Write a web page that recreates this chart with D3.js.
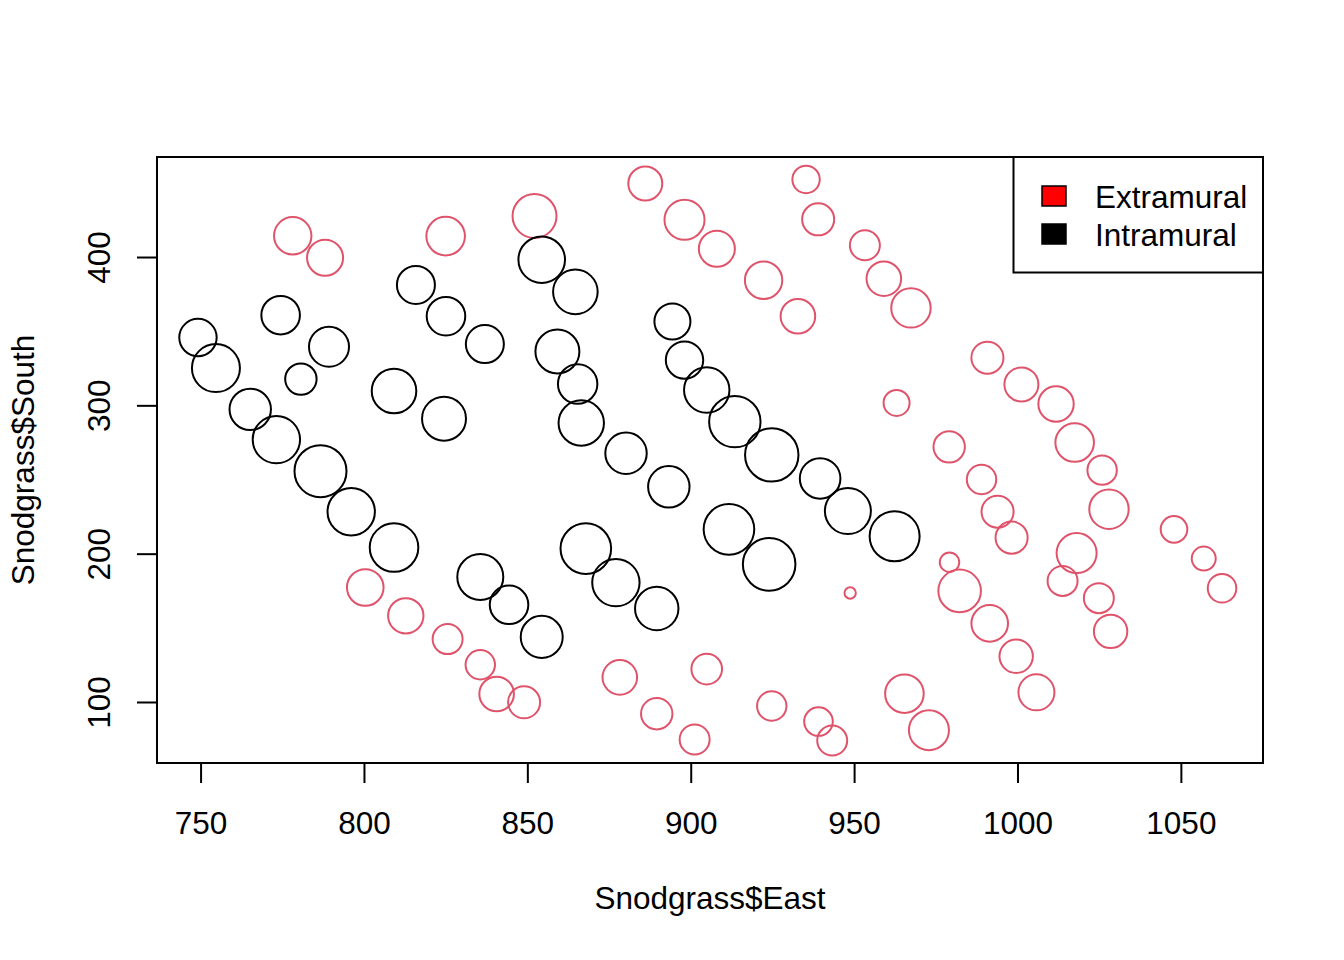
<!DOCTYPE html>
<html>
<head>
<meta charset="utf-8">
<script src="https://cdn.jsdelivr.net/npm/d3@7"></script>
<style>
  body { margin: 0; background: #fff; }
  text { font-family: "Liberation Sans", Arial, Helvetica, sans-serif; }
</style>
</head>
<body>
<div id="chart"></div>
<script>
    // Snodgrass house locations. Area drives the circle size.
    var extEast  = [778.2, 788.1, 825.0, 886.1, 935.3, 852.2, 898.1, 939.0, 908.0, 953.3,
                    922.3, 959.1, 932.8, 967.4, 990.8, 1001.2, 1011.8, 1017.5, 963.0, 979.1,
                    989.0, 1025.9, 993.9, 998.2, 1028.0, 1047.9, 1057.0, 1062.6, 979.2, 982.3,
                    991.5, 999.6, 1005.8, 1018.1, 1013.8, 1024.9, 1028.5, 965.4, 972.9, 948.8,
                    878.3, 904.9, 889.6, 901.2, 924.8, 939.1, 943.3, 800.4, 812.8, 825.6,
                    835.6, 840.6, 849.0];
    var extSouth = [414.3, 399.5, 414.1, 449.6, 452.3, 427.6, 425.1, 425.4, 405.6, 407.9,
                    384.3, 385.4, 360.1, 365.7, 332.1, 314.1, 300.9, 274.9, 301.6, 272.0,
                    250.0, 256.3, 228.3, 210.8, 230.0, 216.4, 196.7, 176.7, 194.2, 174.9,
                    153.0, 130.8, 106.5, 200.4, 181.6, 170.0, 147.6, 105.6, 81.0, 173.5,
                    116.6, 122.2, 92.1, 74.7, 97.3, 86.8, 74.0, 177.2, 158.1, 142.4,
                    125.1, 105.4, 99.8];
    var extArea  = [207, 192, 220, 171, 111, 286, 237, 152, 192, 133,
                    207, 177, 177, 230, 152, 171, 185, 220, 100, 146,
                    128, 128, 152, 152, 230, 105, 85, 121, 56, 268,
                    198, 165, 192, 237, 133, 133, 165, 220, 237, 19,
                    177, 139, 146, 133, 128, 121, 133, 198, 185, 133,
                    128, 177, 152];

    var intEast  = [749.2, 754.7, 774.5, 789.3, 780.7, 815.9, 825.1, 837.0, 809.2, 824.5,
                    765.2, 773.2, 786.7, 796.1, 809.2, 835.6, 844.4, 854.4, 854.4, 864.7,
                    859.2, 865.4, 866.5, 880.2, 894.4, 898.1, 904.9, 913.5, 924.8, 939.6,
                    948.1, 962.4, 867.9, 877.1, 889.6, 893.3, 911.7, 924.0];
    var intSouth = [345.7, 325.1, 360.8, 339.5, 317.7, 381.2, 360.1, 341.3, 309.7, 291.0,
                    297.3, 276.9, 255.6, 228.3, 204.1, 184.3, 165.5, 143.9, 398.2, 376.5,
                    336.3, 314.4, 288.1, 267.7, 356.5, 330.5, 310.3, 289.0, 266.6, 250.7,
                    228.7, 211.7, 203.4, 180.5, 163.0, 245.1, 216.4, 192.8];
    var intArea  = [207, 341, 220, 237, 146, 214, 220, 214, 294, 286,
                    254, 332, 400, 332, 349, 313, 220, 261, 321, 294,
                    286, 230, 305, 254, 192, 207, 305, 391, 422, 244,
                    313, 370, 379, 332, 279, 254, 379, 409];

    var legendLabels = ["Extramural", "Intramural"];
    var xTicks = [750, 800, 850, 900, 950, 1000, 1050];
    var yTicks = [100, 200, 300, 400];

    var width = 1344;
    var height = 960;
    // plot region in pixels (note: "top" is taken by window.top, so prefix them)
    var plotLeft = 157, plotRight = 1263, plotTop = 157, plotBottom = 763;
    var fontSize = "31.5px";
    var red = "#DF536B";

    // R pads the data range by 4% on each side
    var pad = function(ext) {
      var d = (ext[1] - ext[0]) * 0.04;
      return [ext[0] - d, ext[1] + d];
    };

    var allEast = extEast.concat(intEast);
    var allSouth = extSouth.concat(intSouth);

    var x = d3.scaleLinear().domain(pad(d3.extent(allEast))).range([plotLeft, plotRight]);
    var y = d3.scaleLinear().domain(pad(d3.extent(allSouth))).range([plotBottom, plotTop]);
    var r = d3.scaleSqrt().domain([0, 400]).range([0, 26]);

    var svg = d3.select("#chart")
                .append("svg")
                .attr("width", width)
                .attr("height", height);

    var drawgroup = function(east, south, area, colour) {
      svg.append("g")
         .selectAll("circle")
         .data(east)
         .enter()
         .append("circle")
         .attr("cx", function(d) { return x(d); })
         .attr("cy", function(d, i) { return y(south[i]); })
         .attr("r", function(d, i) { return r(area[i]); })
         .attr("fill", "none")
         .attr("stroke", colour)
         .attr("stroke-width", 2);
    };

    drawgroup(extEast, extSouth, extArea, red);
    drawgroup(intEast, intSouth, intArea, "black");

    // axes
    var xAxis = svg.append("g")
       .attr("transform", "translate(0," + plotBottom + ")")
       .call(d3.axisBottom(x).tickValues(xTicks).tickFormat(d3.format("d"))
               .tickSize(20).tickSizeOuter(0));
    xAxis.select(".domain").remove();
    xAxis.selectAll("line").attr("stroke-width", 2);
    xAxis.selectAll("text")
         .attr("y", 71).attr("dy", null)
         .attr("fill", "black")
         .style("font-size", fontSize);

    var yAxis = svg.append("g")
       .attr("transform", "translate(" + plotLeft + ",0)")
       .call(d3.axisLeft(y).tickValues(yTicks).tickFormat(d3.format("d"))
               .tickSize(20).tickSizeOuter(0));
    yAxis.select(".domain").remove();
    yAxis.selectAll("line").attr("stroke-width", 2);
    yAxis.selectAll("text")
         .attr("x", 0).attr("dy", null)
         .attr("text-anchor", "middle")
         .attr("transform", "translate(-47,0) rotate(-90)")
         .attr("fill", "black")
         .style("font-size", fontSize);

    // plot box
    svg.append("rect")
       .attr("x", plotLeft).attr("y", plotTop)
       .attr("width", plotRight - plotLeft).attr("height", plotBottom - plotTop)
       .attr("fill", "none").attr("stroke", "black").attr("stroke-width", 2);

    // axis titles
    svg.append("text")
       .attr("x", (plotLeft + plotRight) / 2).attr("y", 909)
       .attr("text-anchor", "middle")
       .style("font-size", fontSize)
       .text("Snodgrass$East");

    svg.append("text")
       .attr("transform", "translate(34," + (plotTop + plotBottom) / 2 + ") rotate(-90)")
       .attr("text-anchor", "middle")
       .style("font-size", fontSize)
       .text("Snodgrass$South");

    // legend
    var legend = svg.append("g");
    legend.append("rect")
       .attr("x", 1013.5).attr("y", plotTop)
       .attr("width", plotRight - 1013.5).attr("height", 115.5)
       .attr("fill", "white").attr("stroke", "black").attr("stroke-width", 2);

    var swatch = ["red", "black"];
    legend.selectAll(".key")
       .data(legendLabels)
       .enter()
       .append("rect")
       .attr("x", 1042).attr("y", function(d, i) { return 186 + i * 38; })
       .attr("width", 24).attr("height", 20)
       .attr("fill", function(d, i) { return swatch[i]; })
       .attr("stroke", "black").attr("stroke-width", 1.5);

    legend.selectAll(".lab")
       .data(legendLabels)
       .enter()
       .append("text")
       .attr("x", 1095).attr("y", function(d, i) { return 207.5 + i * 38; })
       .style("font-size", fontSize)
       .text(function(d) { return d; });
</script>
</body>
</html>
